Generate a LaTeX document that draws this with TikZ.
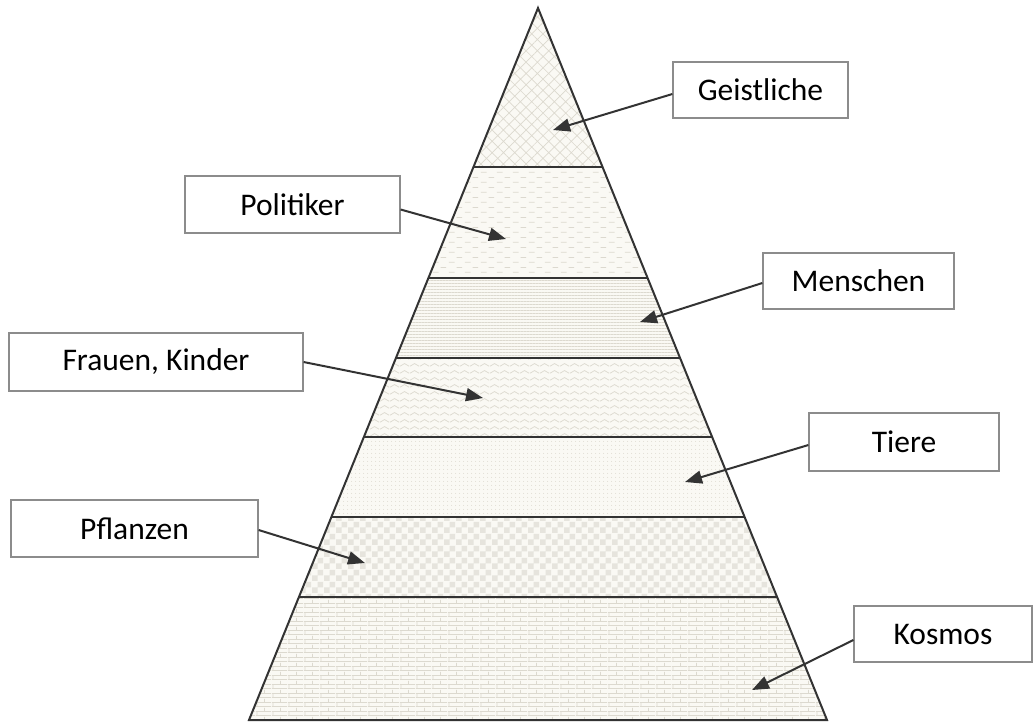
\documentclass[tikz,border=0pt]{standalone}
\usepackage{fontspec}
\setmainfont{Carlito}
\usetikzlibrary{patterns,patterns.meta,arrows.meta,calc}
\definecolor{bgc}{HTML}{FAF9F4}
\definecolor{patc}{HTML}{DCD9CF}
\pgfdeclarepatternformonly{zigzagp}{\pgfpointorigin}{\pgfqpoint{10pt}{7pt}}{\pgfqpoint{10pt}{7pt}}{%
  \pgfsetlinewidth{0.8pt}%
  \pgfpathmoveto{\pgfqpoint{0pt}{2pt}}%
  \pgfpathlineto{\pgfqpoint{5pt}{5pt}}%
  \pgfpathlineto{\pgfqpoint{10pt}{2pt}}%
  \pgfusepath{stroke}}
\pgfdeclarepatternformonly{dashrows}{\pgfpointorigin}{\pgfqpoint{16pt}{10pt}}{\pgfqpoint{16pt}{10pt}}{%
  \pgfsetlinewidth{0.8pt}%
  \pgfpathmoveto{\pgfqpoint{1pt}{2pt}}\pgfpathlineto{\pgfqpoint{7pt}{2pt}}%
  \pgfpathmoveto{\pgfqpoint{9pt}{7pt}}\pgfpathlineto{\pgfqpoint{15pt}{7pt}}%
  \pgfusepath{stroke}}
\pgfdeclarepatternformonly{checkp}{\pgfpointorigin}{\pgfqpoint{12pt}{12pt}}{\pgfqpoint{12pt}{12pt}}{%
  \pgfpathrectangle{\pgfqpoint{0pt}{0pt}}{\pgfqpoint{6pt}{6pt}}%
  \pgfpathrectangle{\pgfqpoint{6pt}{6pt}}{\pgfqpoint{6pt}{6pt}}%
  \pgfusepath{fill}}
\pgfdeclarepatternformonly{brickp}{\pgfpointorigin}{\pgfqpoint{16pt}{9pt}}{\pgfqpoint{16pt}{9pt}}{%
  \pgfsetlinewidth{0.7pt}%
  \pgfpathmoveto{\pgfqpoint{0pt}{0.5pt}}\pgfpathlineto{\pgfqpoint{16pt}{0.5pt}}%
  \pgfpathmoveto{\pgfqpoint{0pt}{5pt}}\pgfpathlineto{\pgfqpoint{16pt}{5pt}}%
  \pgfpathmoveto{\pgfqpoint{1pt}{0.5pt}}\pgfpathlineto{\pgfqpoint{1pt}{5pt}}%
  \pgfpathmoveto{\pgfqpoint{9pt}{5pt}}\pgfpathlineto{\pgfqpoint{9pt}{9pt}}%
  \pgfusepath{stroke}}
\begin{document}
\begin{tikzpicture}[x=1pt,y=-1pt,
  lbl/.style={draw=black!45, line width=1.2pt, fill=white, inner sep=0pt,
    font=\fontsize{31.5}{36}\selectfont},
  arr/.style={draw=black!80, line width=2pt, -{Triangle[length=17pt,width=13pt]}},
  edge/.style={draw=black!80, line width=2pt, line join=miter},
  band/.style={preaction={fill=bgc}, pattern color=patc}]
\useasboundingbox (0,0) rectangle (1036,724);
\coordinate (A) at (538,8);
\coordinate (BL) at (249,720);
\coordinate (BR) at (827,720);
\foreach \i/\t in {1/0.2233,2/0.3792,3/0.4916,4/0.6025,5/0.7149,6/0.8272}{
  \coordinate (L\i) at ($(A)!\t!(BL)$);
  \coordinate (R\i) at ($(A)!\t!(BR)$);
}
% bands
\path[band, pattern={Hatch[angle=45,distance=8pt,line width=0.7pt]}] (A) -- (L1) -- (R1) -- cycle;
\path[band, pattern=dashrows] (L1) -- (L2) -- (R2) -- (R1) -- cycle;
\path[band, pattern={Lines[angle=0,distance=3pt,line width=0.6pt]}] (L2) -- (L3) -- (R3) -- (R2) -- cycle;
\path[band, pattern=zigzagp] (L3) -- (L4) -- (R4) -- (R3) -- cycle;
\path[band, pattern={Dots[distance=4pt,radius=0.6pt]}] (L4) -- (L5) -- (R5) -- (R4) -- cycle;
\path[band, pattern=checkp, pattern color=patc!70] (L5) -- (L6) -- (R6) -- (R5) -- cycle;
\path[band, pattern=brickp] (L6) -- (BL) -- (BR) -- (R6) -- cycle;
% outlines
\foreach \i in {1,...,6}{\draw[edge] (L\i) -- (R\i);}
\draw[edge] (A) -- (BL) -- (BR) -- cycle;
% labels
\node[lbl, minimum width=175pt, minimum height=56pt] (geist) at (760.5,90) {Geistliche};
\node[lbl, minimum width=215pt, minimum height=57pt] (polit) at (292.5,204.5) {Politiker};
\node[lbl, minimum width=191pt, minimum height=56pt] (mensch) at (858.5,281) {Menschen};
\node[lbl, minimum width=294pt, minimum height=58pt] (frauen) at (156,362) {Frauen, Kinder};
\node[lbl, minimum width=190pt, minimum height=58pt] (tiere) at (904,442) {Tiere};
\node[lbl, minimum width=247pt, minimum height=57pt] (pflanz) at (134.5,528.5) {Pflanzen};
\node[lbl, minimum width=178pt, minimum height=56pt] (kosmos) at (943,634) {Kosmos};
% arrow targets
\coordinate (tgeist) at (553,130);
\coordinate (tpolit) at (506,239);
\coordinate (tmensch) at (640,322);
\coordinate (tfrauen) at (483,398);
\coordinate (ttiere) at (685,482);
\coordinate (tpflanz) at (365,563);
\coordinate (tkosmos) at (752,690);
\draw[arr] ([yshift=-4pt]geist.west) -- (tgeist);
\draw[arr] ([yshift=-5pt]polit.east) -- (tpolit);
\draw[arr] ([yshift=-2pt]mensch.west) -- (tmensch);
\draw[arr] (frauen.east) -- (tfrauen);
\draw[arr] ([yshift=-3pt]tiere.west) -- (ttiere);
\draw[arr] ([yshift=-1.5pt]pflanz.east) -- (tpflanz);
\draw[arr] ([yshift=-6pt]kosmos.west) -- (tkosmos);
\end{tikzpicture}
\end{document}
